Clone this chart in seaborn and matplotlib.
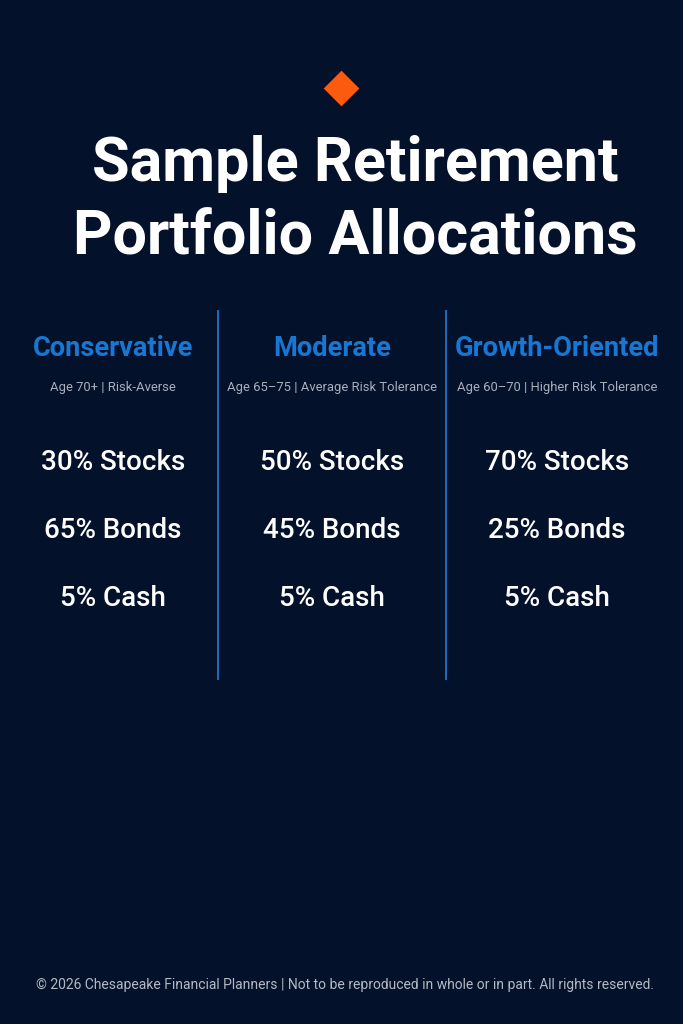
import matplotlib
matplotlib.use("Agg")
import matplotlib.pyplot as plt
import seaborn as sns
from matplotlib import font_manager

# portfolio profiles
profiles = ["Conservative", "Moderate", "Growth-Oriented"]
profile_notes = ["Age 70+ | Risk-Averse",
                 "Age 65\u201375 | Average Risk Tolerance",
                 "Age 60\u201370 | Higher Risk Tolerance"]
stocks = [30, 50, 70]
bonds = [65, 45, 25]
cash = [5, 5, 5]
asset_labels = ["Stocks", "Bonds", "Cash"]

title = "Sample Retirement\nPortfolio Allocations"
footer = ("\u00a9 2026 Chesapeake Financial Planners | Not to be reproduced "
          "in whole or in part. All rights reserved.")

BG = "#03112b"
BLUE = "#1877d2"
GREY = "#a9b0bc"

sns.set_theme(style="dark")
plt.rcParams["font.family"] = ["Roboto", "DejaVu Sans"]

# narrow face for the small captions, if there is one
names = {f.name for f in font_manager.fontManager.ttflist}
if "Liberation Sans Narrow" in names:
    note_font, note_size = ["Liberation Sans Narrow", "DejaVu Sans"], 11.2
else:
    note_font, note_size = ["Roboto", "DejaVu Sans"], 9.4

fig = plt.figure(figsize=(6.83, 10.24), dpi=100, facecolor=BG)
ax = fig.add_axes([0, 0, 1, 1])
ax.set_facecolor(BG)
ax.set_xlim(0, 683)
ax.set_ylim(1024, 0)
ax.axis("off")

# orange diamond
ax.scatter([341], [88], marker="D", s=330, color="#fb5a0f", linewidths=0)

ax.text(355, 201, title, ha="center", va="center", color="white",
        fontsize=44, fontweight="bold", linespacing=1.34)

col_x = [113, 332, 557]
ax.vlines([218, 446], 310, 680, color="#1d6bbd", linewidth=1.4)

for i, name in enumerate(profiles):
    x = col_x[i]
    ax.text(x, 349, name, ha="center", va="center", color=BLUE,
            fontsize=19.6, fontweight="bold")
    ax.text(x, 388, profile_notes[i], ha="center", va="center", color=GREY,
            fontsize=note_size, family=note_font)
    vals = [stocks[i], bonds[i], cash[i]]
    for j, (v, lab) in enumerate(zip(vals, asset_labels)):
        ax.text(x, 462 + j * 68, f"{v}% {lab}", ha="center", va="center",
                color="white", fontsize=20, fontweight="medium")

ax.text(345, 985, footer, ha="center", va="center", color="#b3bac6",
        fontsize=10)

fig.savefig("out.png", dpi=100, facecolor=BG)
